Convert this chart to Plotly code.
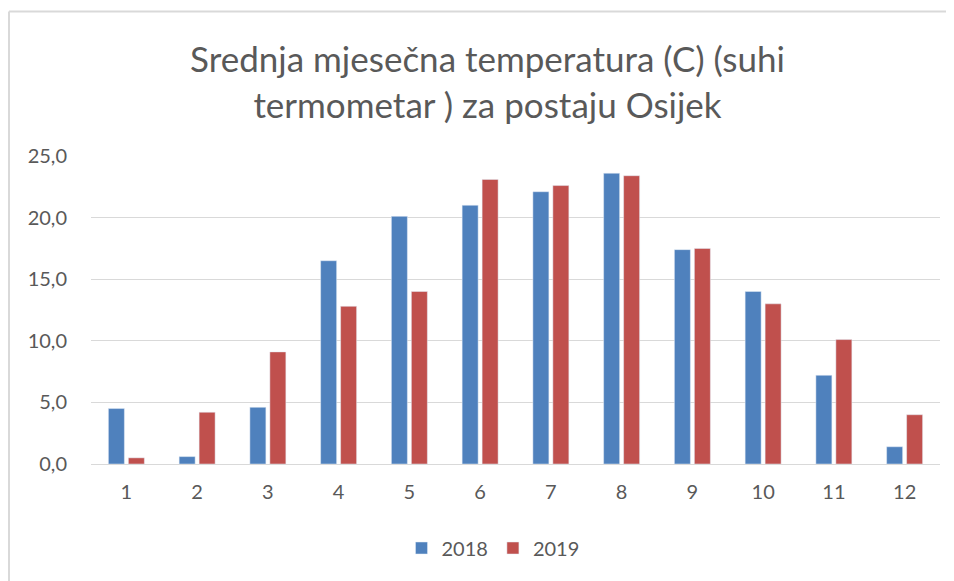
import plotly.graph_objects as go

months = ["1", "2", "3", "4", "5", "6", "7", "8", "9", "10", "11", "12"]
t2018 = [4.5, 0.6, 4.6, 16.5, 20.1, 21.0, 22.1, 23.6, 17.4, 14.0, 7.2, 1.4]
t2019 = [0.5, 4.2, 9.1, 12.8, 14.0, 23.1, 22.6, 23.4, 17.5, 13.0, 10.1, 4.0]
y_ticks = [0, 5, 10, 15, 20, 25]

FONT = "Lato, 'Open Sans', sans-serif"
GREY = "#595959"

# the page body has an 8px margin, so the figure is offset by (8, 8)
OFF = 8
W, H = 954 - OFF, 581 - OFF
PL, PR, PT, PB = 91, 940, 156, 464  # plot area in screen pixels

fig = go.Figure()
fig.add_trace(go.Bar(x=months, y=t2018, name="2018", marker=dict(color="#4F81BD")))
fig.add_trace(go.Bar(x=months, y=t2019, name="2019", marker=dict(color="#C0504D")))

fig.update_layout(
    width=W, height=H,
    paper_bgcolor="white", plot_bgcolor="white",
    margin=dict(l=PL - OFF, r=W + OFF - PR, t=PT - OFF, b=H + OFF - PB, autoexpand=False),
    barmode="group", bargap=0.435, bargroupgap=0.2,
    separators=", ",
    title=dict(
        text="Srednja mjesečna temperatura (C) (suhi<br>termometar ) za postaju Osijek",
        x=(487.5 - OFF) / W, xanchor="center", xref="container",
        y=1 - (72 - OFF) / H, yref="container", yanchor="middle",
        font=dict(family=FONT, size=35, color=GREY),
    ),
    font=dict(family=FONT, size=20, color=GREY),
    legend=dict(
        orientation="h", x=(493 - PL) / (PR - PL), xanchor="center",
        y=-(548 - PB) / (PB - PT), yanchor="middle",
        font=dict(family=FONT, size=20, color=GREY),
        itemwidth=30, traceorder="normal",
    ),
    xaxis=dict(
        showgrid=False, showline=False, ticks="", ticklabelstandoff=14,
        tickfont=dict(family=FONT, size=20, color=GREY),
    ),
    yaxis=dict(
        range=[0, 25], tickvals=y_ticks, tickformat=".1f",
        showgrid=True, gridcolor="#d9d9d9", gridwidth=1,
        zeroline=True, zerolinecolor="#d9d9d9", zerolinewidth=1,
        showline=False, ticks="", ticklabelstandoff=23,
        tickfont=dict(family=FONT, size=20, color=GREY),
    ),
    showlegend=True,
)

# outer chart border (top and left visible)
bx = (9 - PL) / (PR - PL)
by = (PB - 11.5) / (PB - PT)
fig.add_shape(type="line", xref="paper", yref="paper",
              x0=bx, x1=1.2, y0=by, y1=by,
              line=dict(color="#d9d9d9", width=2))
fig.add_shape(type="line", xref="paper", yref="paper",
              x0=bx, x1=bx, y0=by, y1=-0.5,
              line=dict(color="#d9d9d9", width=2))

fig.write_html("out.html")
